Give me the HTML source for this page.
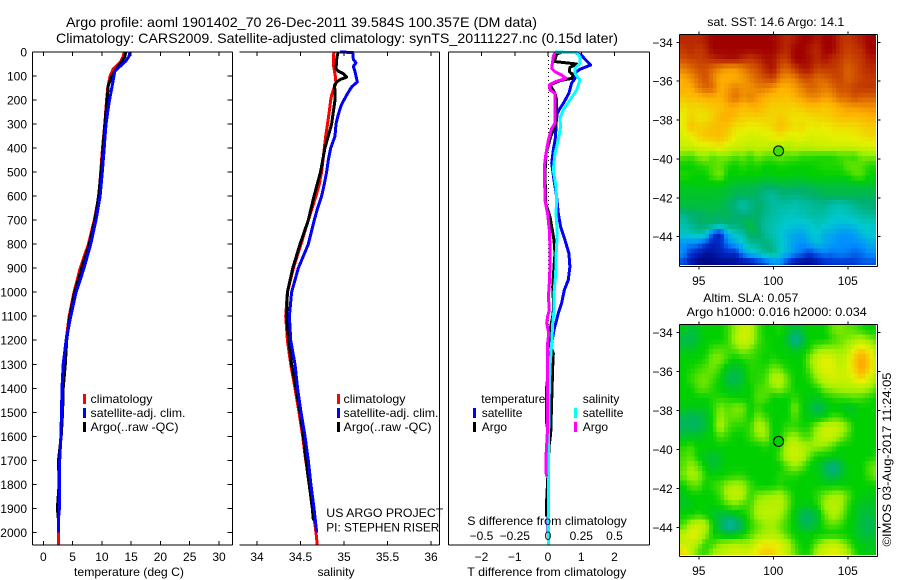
<!DOCTYPE html>
<html lang="en">
<head>
<meta charset="utf-8">
<title>Argo profile</title>
<style>
html,body{margin:0;padding:0;background:#fff;}
svg{display:block;font-family:"Liberation Sans",sans-serif;}
text{font-size:12px;fill:#000;}
.t{font-size:14px;}
</style>
</head>
<body>
<svg id="chart" width="900" height="580" viewBox="0 0 900 580" xmlns="http://www.w3.org/2000/svg">
<rect width="900" height="580" fill="#fff"/>
<defs>
<clipPath id="clip1"><rect x="680" y="35" width="196" height="230"/></clipPath>
<clipPath id="clip2"><rect x="680" y="325" width="196" height="230"/></clipPath>
</defs>
<text class="t" x="66" y="27" textLength="471" lengthAdjust="spacingAndGlyphs">Argo profile: aoml 1901402_70 26-Dec-2011 39.584S 100.357E (DM data)</text>
<text class="t" x="56" y="43" textLength="562" lengthAdjust="spacingAndGlyphs">Climatology: CARS2009. Satellite-adjusted climatology: synTS_20111227.nc (0.15d later)</text>

<g id="p1"></g>
<g id="p2"></g>
<g id="p3"></g>
<g id="m1"></g>
<g id="m2"></g>

<text x="74" y="576" textLength="110" lengthAdjust="spacingAndGlyphs">temperature (deg C)</text>
<text x="317.5" y="576" textLength="37" lengthAdjust="spacingAndGlyphs">salinity</text>
<text x="467.3" y="576" textLength="159" lengthAdjust="spacingAndGlyphs">T difference from climatology</text>
<text x="467.3" y="525" textLength="159.5" lengthAdjust="spacingAndGlyphs">S difference from climatology</text>

<g>
<rect x="83" y="394" width="3" height="10" fill="#f00"/>
<text x="90.5" y="403" textLength="62" lengthAdjust="spacingAndGlyphs">climatology</text>
<rect x="83" y="408" width="3" height="10" fill="#00f"/>
<text x="90.5" y="417" textLength="95" lengthAdjust="spacingAndGlyphs">satellite-adj. clim.</text>
<rect x="83" y="422" width="3" height="10" fill="#000"/>
<text x="90.5" y="431" textLength="88" lengthAdjust="spacingAndGlyphs">Argo(..raw -QC)</text>
</g>
<g>
<rect x="337" y="394" width="3" height="10" fill="#f00"/>
<text x="343.5" y="403" textLength="62" lengthAdjust="spacingAndGlyphs">climatology</text>
<rect x="337" y="408" width="3" height="10" fill="#00f"/>
<text x="343.5" y="417" textLength="95" lengthAdjust="spacingAndGlyphs">satellite-adj. clim.</text>
<rect x="337" y="422" width="3" height="10" fill="#000"/>
<text x="343.5" y="431" textLength="88" lengthAdjust="spacingAndGlyphs">Argo(..raw -QC)</text>
</g>
<text x="326.3" y="517" textLength="117" lengthAdjust="spacingAndGlyphs">US ARGO PROJECT</text>
<text x="326.3" y="531.5" textLength="113" lengthAdjust="spacingAndGlyphs">PI: STEPHEN RISER</text>

<g>
<text x="481.3" y="403" textLength="64" lengthAdjust="spacingAndGlyphs">temperature</text>
<rect x="473" y="408" width="3" height="10" fill="#00f"/>
<text x="481.7" y="417">satellite</text>
<rect x="473" y="422" width="3" height="10" fill="#000"/>
<text x="481.7" y="431">Argo</text>
<text x="582.7" y="403">salinity</text>
<rect x="574" y="408" width="3" height="10" fill="#0ff"/>
<text x="582.7" y="417">satellite</text>
<rect x="574" y="422" width="3" height="10" fill="#f0f"/>
<text x="582.7" y="431">Argo</text>
</g>

<text x="707.3" y="26" textLength="137" lengthAdjust="spacingAndGlyphs">sat. SST: 14.6 Argo: 14.1</text>
<text x="703.3" y="302" textLength="95" lengthAdjust="spacingAndGlyphs">Altim. SLA: 0.057</text>
<text x="686.7" y="316" textLength="180" lengthAdjust="spacingAndGlyphs">Argo h1000: 0.016 h2000: 0.034</text>
<text transform="translate(891,546.5) rotate(-90)" textLength="174" lengthAdjust="spacingAndGlyphs">©IMOS 03-Aug-2017 11:24:05</text>
</svg>

<script>
// ---- axis ticks ----
const depthTicks = [0,100,200,300,400,500,600,700,800,900,1000,1100,1200,1300,1400,1500,1600,1700,1800,1900,2000];
const tempTicks = [0,5,10,15,20,25,30];
const salTicks = [34,34.5,35,35.5,36];
const tDiffTicks = [-2,-1,0,1,2];
const sDiffTicks = [-0.5,-0.25,0,0.25,0.5];
const lonTicks = [95,100,105];
const latTicks = [-34,-36,-38,-40,-42,-44];

// ---- temperature profiles ----
const tempClimDepth = [0,20,40,60,70,100,150,200,300,400,500,600,700,800,900,1000,1100,1200,1300,1400,1500,1600,1700,1800,1900,2000,2054];
const tempClimValue = [13.8,13.6,13.2,12.4,11.95,11.4,11.0,10.8,10.5,10.1,9.8,9.5,8.7,7.7,6.3,5.25,4.4,3.9,3.5,3.25,3.1,3.0,2.75,2.7,2.65,2.56,2.56];
const tempSatDepth = [0,20,40,60,80,100,150,200,250,300,400,500,600,700,800,900,1000,1100,1200,1300,1400,1500,1600,1700,1800,1900,1950,2000];
const tempSatValue = [14.8,14.6,14.0,13.1,12.2,12.07,11.7,11.3,11.0,10.7,10.4,10.07,9.7,9.0,8.1,6.95,5.6,4.7,3.9,3.4,3.2,3.1,3.0,2.8,2.75,2.75,2.56,2.56];
const tempArgoDepth = [0,20,40,60,80,100,140,200,300,400,500,600,700,800,900,1000,1100,1200,1300,1400,1500,1600,1700,1800,1900,1950];
const tempArgoValue = [14.1,13.9,13.4,12.8,12.2,11.7,11.1,10.9,10.5,10.2,9.85,9.45,8.8,7.85,6.55,5.36,4.55,4.0,3.76,3.4,3.3,3.05,2.6,2.7,2.4,2.6];

// ---- salinity profiles ----
const salClimDepth = [0,20,50,100,130,150,180,200,250,300,350,400,500,550,600,700,800,900,1000,1100,1200,1300,1400,1500,1600,1700,1800,1900,2000,2054];
const salClimValue = [34.885,34.877,34.877,34.9,34.908,34.885,34.858,34.847,34.83,34.81,34.79,34.774,34.743,34.716,34.678,34.59,34.506,34.418,34.349,34.33,34.349,34.387,34.437,34.483,34.525,34.56,34.609,34.64,34.678,34.693];
const salArgoDepth = [0,10,30,70,80,90,105,115,125,140,160,200,250,300,350,400,500,600,700,800,900,1000,1100,1200,1300,1400,1500,1600,1700,1750,1800,1900,1950];
const salArgoValue = [34.935,34.925,34.916,34.908,34.935,34.992,35.03,34.954,34.916,34.889,34.897,34.897,34.877,34.858,34.82,34.78,34.73,34.655,34.59,34.494,34.41,34.349,34.34,34.364,34.398,34.448,34.494,34.533,34.563,34.58,34.6,34.636,34.648];
const salSatDepth = [0,2,30,45,60,75,100,125,145,180,220,260,300,350,400,450,500,550,600,650,700,800,900,1000,1100,1200,1300,1400,1500,1600,1700,1800,1900,2000];
const salSatValue = [34.954,35.1,35.107,35.138,35.107,35.122,35.138,35.153,35.088,35.03,34.97,34.935,34.908,34.897,34.847,34.82,34.8,34.774,34.743,34.697,34.659,34.59,34.475,34.398,34.372,34.387,34.437,34.467,34.506,34.552,34.59,34.62,34.655,34.686];

// ---- differences from climatology ----
const tDiffSatDepth = [0,6,14,33,54,72,89,110,130,172,214,235,255,297,352,408,463,533,602,672,727,783,838,894,949,991,1046,1088,1157,1212,1268,1393,1545,1587,1726,2000];
const tDiffSatValue = [0.81,0.86,1.01,1.13,1.28,0.96,0.79,0.81,0.71,0.63,0.46,0.36,0.28,0.24,0.23,0.16,0.11,0.18,0.26,0.31,0.38,0.51,0.63,0.66,0.61,0.49,0.41,0.31,0.18,0.11,0.06,-0.04,-0.04,0.01,0,0];
const tDiffArgoDepth = [0,8,33,40,50,64,82,96,110,119,137,172,200,297,352,422,505,630,686,727,783,838,894,977,1060,1101,1143,1212,1254,1310,1448,1587,1643,1754,1865,1934];
const tDiffArgoValue = [0.44,0.26,0.21,0.21,0.86,0.66,0.64,0.76,0.71,0.36,0.06,0.21,0.26,0.24,0.08,-0.06,-0.09,-0.07,0.06,0.11,0.18,0.21,0.18,0.14,0.17,0.14,0.08,0.04,0.16,0.14,0.11,0.08,0.03,0,-0.04,-0.04];
const sDiffSatDepth = [0,3,19,47,68,89,117,158,200,241,276,311,366,422,491,561,616,672,755,852,921,1005,1074,1129,1212,1310,1448,1587,1726,1865,2004,2054];
const sDiffSatValue = [0.053,0.216,0.24,0.24,0.203,0.203,0.24,0.216,0.165,0.115,0.09,0.095,0.078,0.053,0.04,0.06,0.065,0.06,0.07,0.06,0.058,0.045,0.045,0.035,0.028,0.015,0.008,0.005,0.003,0.005,0.003,0.003];
const sDiffArgoDepth = [3,19,68,82,96,110,124,137,158,172,228,297,318,366,422,477,547,616,672,741,810,894,963,1019,1074,1101,1129,1171,1226,1351,1587,1684,1768];
const sDiffArgoValue = [0.053,0.04,0.028,0.053,0.103,0.135,0.053,0.01,0.015,0.053,0.053,0.053,0.028,0.003,-0.015,-0.028,-0.025,-0.023,-0.003,0.01,0.015,0.015,0.01,0.003,0.01,-0.003,-0.01,0.005,-0.005,-0.005,-0.005,-0.015,-0.013];

// ---- map colour levels: 0 = navy ... 5 = green ... 10 = dark red ----
const sstGrid = [
[9.5,9.5,9.5,9.7,10,10,10,10,10,10,10,10,10,9.7,9.5,9.7,10,10,9.7,10,10,9.5,9.3,9.5,9.7,10,10],
[9.3,9.5,9.3,9.5,10,10,10,10,10,10,10,10,10,9.7,9.5,10,10,9.7,9.5,10,10,9.5,9.2,9.3,9.5,10,10],
[9,9.2,9.2,9.3,9.5,9.7,9.8,9.8,9.5,9.3,9.5,9.8,9.8,9.3,9.3,10,10,9.8,9.5,9.8,9.5,9.3,9,9.2,9.3,9.7,9.7],
[8.5,8.7,9,9,8.7,8.4,8.2,8.2,8.5,8.8,9,9.5,9.8,9,8.8,9.3,9.7,9.7,9.2,9.3,9.3,9.2,8.8,9,9.3,9.5,9.5],
[8,8.3,8.7,9,8.5,8,8,8,8.2,8.5,8.8,9,9.2,8.5,8.3,8.5,9,9,8.7,8.8,9,9.2,8.8,9,9.2,9.3,9.3],
[8,8,8.5,8.8,8.7,8,8.2,8.5,8.3,8.3,8.5,8.5,8.3,8,8,8.2,8.5,8.8,8.7,8.5,8.7,9,9,9.2,9.3,9.3,9.3],
[7.7,7.8,7.8,8,8,8,8.3,8.7,8.3,8.5,8.2,8,7.8,7.8,7.7,8,8.2,8.4,8.4,8.2,8.3,8.7,8.7,9,8.8,8.8,8.8],
[7.2,7.4,7.4,7.5,7.6,7.7,8,8,7.8,7.9,8,7.7,7.5,7.5,7.5,7.4,7.6,7.8,7.8,7.6,7.8,8,8.2,8.2,8.3,8.3,8.3],
[7,7.5,7.2,7.2,7.5,8,8,7.8,7.5,7.5,7.5,7.5,7.4,7.6,7.4,7.2,7.2,7.3,7.4,7.5,7.6,7.8,7.8,7.8,7.8,8,8],
[7,7.8,7.5,7.6,7.8,7.8,7.7,7.2,7.2,7,7.1,7.2,7.4,7.8,7.5,7.2,7.4,7,7.2,7,7.2,7.3,7.3,7.3,7.5,7.6,7.6],
[6.8,7,7.4,7.7,7.7,7.8,7.5,7,6.8,6.7,6.7,6.8,7,7.2,6.9,6.9,7,6.8,6.8,6.8,7,7,7,7.1,7.2,7.4,7.4],
[6.5,6.6,6.8,6.7,7,7.2,6.8,6.6,6.5,6.4,6.5,6.5,6.3,6.2,6.2,6.5,6.4,6.4,6.6,6.6,6.6,6.6,6.6,6.7,6.7,6.8,6.8],
[5.6,5.4,5.8,6,5.5,5.8,5.8,5.5,5.7,5.3,5.8,5.5,5.5,5.7,5.5,5.5,5.3,5.3,5.2,5.2,5.2,5.4,5.4,5.3,5.8,5.8,5.8],
[5,5,5.2,5.3,5.5,5.6,5.2,5,5.3,5.1,5.2,5,5,5.1,5.1,5,5,5,5.1,5.2,5.2,5.2,5.6,5.6,5.5,5.2,5.2],
[5.2,5.1,5,5,5.5,5.8,5,5,5,4.9,5,4.8,4.9,5,4.9,4.9,4.9,5,5,5,5,5,5.1,5.5,5.5,5,5],
[4.8,4.8,4.8,4.9,4.8,4.8,4.7,4.5,4.4,4.5,4.3,4.2,4.2,4.3,4.4,4.3,4.3,4.3,4.5,4.5,4.5,4.5,4.5,4.5,4.6,4.6,4.6],
[4.6,4.6,4.6,4.6,4.6,4.6,4.4,4.2,4.2,4.2,4,3.7,3.5,3.8,3.9,3.8,3.9,4,4.1,4.2,4.3,4.3,4.3,4.3,4.2,4.2,4.2],
[4.5,4.5,4.5,4.5,4.5,4.4,4.2,3.8,3.3,3.7,4,3.8,3.5,3.5,3.5,3.3,3.5,3.5,3.7,3.7,3.4,3.3,3.5,3.7,3.9,4,4],
[3.7,4,4,4.2,4.2,4.2,4.2,4,3.9,3.9,4.1,3.7,3.5,3.3,3.2,3.2,3.3,3.5,3.5,3.4,3.2,3.1,3.2,3.3,3.5,3.6,3.6],
[3.4,3.7,4,4.1,4.1,3.8,4,4,4.2,4.5,4,3.5,3.3,3.2,3,3,2.8,3,3.3,3.1,2.9,2.8,2.8,2.9,3.1,3.1,3.1],
[3.2,3.2,3.5,3.3,1.2,0.7,2.6,3.2,3.4,4.2,4.2,3.6,3.3,3,2.6,2.4,2.4,2.8,3,2.5,2.5,2.1,2.1,2.2,2.8,3,3],
[2,2,1.8,1.2,0.7,0.9,1.8,2.4,3,3.5,3.7,4,3.6,3.2,2.7,2.2,2,2.4,2.8,2.5,2.2,2,2,2,2.1,2.5,2.5],
[2,1,0.7,0.3,0.4,0.7,0.9,0.8,2,2.7,3,3.6,3.8,3,2.6,2,1.6,1.1,1.6,1.8,1.7,1.9,1.8,1.5,1.7,2,2],
[1.3,0.5,0.1,0.1,0.1,0.2,0.2,0.3,0.3,0.4,0.9,1.2,1.9,2,1,0.4,0.2,0.2,0.5,0.9,1,1,1,1.1,1.3,1.4,1.4]
];
const slaGrid = [
[4.8,4.5,4.7,5,5,5,5.3,6,6.6,6.5,5.5,5,5,5.2,4.8,4.4,4.7,5,5,5,5.6,5.8,5.6,5.5,5.2,5,5],
[4.3,4.3,4.6,5,5,5,5.3,6.2,6.7,6.5,5.5,5.1,5,5,4.5,3.4,4.2,5,5,5,5.3,5.6,5.8,6,6.2,5.8,5.5],
[4.7,4.7,4.9,5,5.4,5.5,5.4,5.6,6,5.7,5.3,5.1,5,5,4.9,4.6,4.8,5.2,5.8,6,6,5.9,6.2,7,7.4,7,6],
[5,5,5,5.2,5.8,5.8,5.3,5,5.2,5.3,5.2,5,5.2,5,5,5,5,5.8,6.6,6.9,6.8,6.3,6.6,7.6,8.2,7.5,6.4],
[5,5.1,5.3,5.5,5.7,5.3,4.7,4.5,4.8,5.2,5.2,5.2,5.7,5.6,5.1,5,5,5.6,6.5,6.9,6.9,6.5,6.7,7.5,8.2,7.5,6.4],
[5,5.3,5.6,5.7,5.4,5,4.4,4.2,4.6,5.2,5.2,5.4,6.2,6.4,5.6,5,5,5.2,6,6.5,6.7,6.6,6.6,7,7.4,6.8,6],
[5,5,5.5,5.6,5.2,5,4.7,4.6,4.9,5,5.4,5.5,5.8,6,5.5,5,5,5,5.2,5.8,6,6.2,6.2,6.2,6.3,6,5.5],
[5,5,5,5,5.2,5.2,5.2,5,5,5,5.5,5.5,5,5,5,5.3,5,4.9,4.8,5,5.2,5.3,5.4,5.5,5.4,5.2,5],
[4.8,4.8,4.8,4.8,5.2,5.8,5.5,5.8,5.7,5,5.3,5,5,5,5,5.8,5,4.6,4,4.5,4.9,4.8,4.6,4.8,5,5,5],
[4.3,4.2,4.2,4.5,5.2,6,5.6,5.6,5.5,5,5.8,5.4,5,5,5,5.5,5,4.9,4.8,5,5.4,5.4,5,4.9,5,5,5],
[4.2,4.2,4.2,4.5,5.2,6.2,5.5,5.2,5.2,5.3,6.2,6,5,5,5.3,5.3,5.1,5.2,6,6.5,6.7,6.4,5.8,5,5,5,5],
[4.6,4.7,4.7,4.9,5,5.5,5.2,5,5,5.3,5.8,6,5,5,5.8,6.1,5.5,5.5,6.2,6.6,6.5,6,5.4,5,5,5,5],
[5.2,5.4,5,5,5,5,5,5,5,5,5,5.2,5,5.2,6.3,6.6,6.2,6,6,5.8,5.5,5,5,5,5,5,5],
[5.4,5.6,5,4.7,4.5,4.7,5,5,5,5,5,5,5,5.5,6.3,6.7,6.3,5.6,5,5,4.9,4.9,5,5,5,5,5.2],
[5.5,6,5.6,4.9,4.5,4.8,5,5,5,5,5,5,5,5,5.6,6,5.6,5,4.8,4.3,3.7,4.2,4.9,5,5,5.5,5.7],
[5.7,6.1,6,5.2,5,5,5.1,5.2,5.2,5,5,5,5,5.2,5.2,5.2,5,5,4.9,4.5,4.1,4.5,4.9,5,5,5.4,5.8],
[5,5.5,5.6,5,5.3,5.5,6,6.2,6,5.4,5,5,5,5.2,5,5,5,5,5,5,5,5,5,5,5,5,5],
[4.7,5,5,5,5,5.4,6.2,6.6,6.2,5.3,5.7,5.9,6,6.2,5.6,5,5,5,5.3,5.7,6,6.1,5.6,5,4.9,4.8,4.9],
[4.7,4.8,5,5,5,5.1,5.5,5.7,5.4,5.4,6.1,6.3,6.3,6.4,5.7,5,4.9,4.8,5.2,6,6.4,6.2,5.4,4.9,4.7,4.6,4.8],
[5,5,5.2,5,4.6,4.5,4.4,4.7,5,5.4,6.2,6.4,6.4,6.1,5.5,4.8,4.2,4.1,4.6,5.6,6.2,6,5.2,4.8,4.5,4.4,4.7],
[5.4,6.2,6.6,6.3,5,4.2,3.5,3.6,4.5,5.2,5.6,5.9,6,5.7,5.3,4.9,4.3,4.2,4.7,5.3,5.6,5.4,5,4.8,4.4,4.2,4.6],
[6.3,6.9,6.8,6,5,4.8,4.4,4.6,4.9,5.4,5.8,6.1,6.2,5.9,5.4,5,4.9,4.9,5,5,5,5,5,4.8,4.5,4.4,4.7],
[6.5,6.5,6,5.2,5.4,5.9,6.1,6.2,6.1,6.1,6.8,7.1,7.1,6.8,6.3,5.4,5,5,5.7,6.2,6.5,6.2,5.6,5,4.8,4.7,4.9],
[7.5,6.4,5.5,5.3,6,6.4,6.6,6.8,6.7,6.8,7.2,7.6,7.5,7,6.4,5.6,5.1,5.2,6.3,6.8,7,6.9,6.2,5.4,4.9,4.8,4.9]
];
const profileLon = [100.357];
const profileLat = [-39.584];
const sstMarkerLevel = [5.4];
const slaMarkerLevel = [5.0];

// ---- scales ----
const NS = 'http://www.w3.org/2000/svg';
const PANEL_TOP = 52, PANEL_BOTTOM = 545;
function yDepth(d){ return PANEL_TOP + d * 0.2402; }
function xTemp(v){ return 43.3 + v * 5.857; }
function xSal(v){ return 257 + (v - 34) * 87; }
function xTDiff(v){ return 548 + v * 33.25; }
function xSDiff(v){ return 548 + v * 133; }
function xLon(v){ return 773.3 + (v - 100) * 14.9; }
function yLat1(v){ return 42.3 + (-34 - v) * 19.44; }
function yLat2(v){ return 332.7 + (-34 - v) * 19.46; }
function minusText(v){ return String(v).replace('-', '\u2212'); }

function colourOf(level){
  const stops = [[0,0,128],[0,48,208],[0,144,255],[0,200,208],[0,176,112],[0,208,0],[160,240,0],[232,240,0],[255,176,0],[208,80,0],[160,0,0]];
  const c = Math.max(0, Math.min(10, level));
  const i = Math.min(9, Math.floor(c));
  const f = c - i;
  const rgb = [0,1,2].map(function(k){ return Math.round(stops[i][k] + (stops[i+1][k] - stops[i][k]) * f); });
  return 'rgb(' + rgb.join(',') + ')';
}
// interpolated shading: colour level at a fractional grid position
function sampleGrid(grid, gx, gy){
  const maxR = grid.length - 1, maxC = grid[0].length - 1;
  const x = Math.max(0, Math.min(maxC, gx)), y = Math.max(0, Math.min(maxR, gy));
  const c0 = Math.floor(x), r0 = Math.floor(y);
  const c1 = Math.min(maxC, c0 + 1), r1 = Math.min(maxR, r0 + 1);
  const fx = x - c0, fy = y - r0;
  return (grid[r0][c0] * (1 - fx) + grid[r0][c1] * fx) * (1 - fy) + (grid[r1][c0] * (1 - fx) + grid[r1][c1] * fx) * fy;
}

function addLine(parent, name, x1, y1, x2, y2, dash){
  const el = document.createElementNS(NS, 'line');
  
  
  el.setAttribute('x1', x1);
  el.setAttribute('y1', y1);
  el.setAttribute('x2', x2);
  el.setAttribute('y2', y2);
  el.setAttribute('stroke', '#000');
  el.setAttribute('stroke-width', '1');
  el.setAttribute('shape-rendering', 'crispEdges');
  if (dash) el.setAttribute('stroke-dasharray', dash);
  parent.appendChild(el);
}
function addLabel(parent, name, x, y, anchor, str){
  const el = document.createElementNS(NS, 'text');
  
  
  el.setAttribute('x', x);
  el.setAttribute('y', y);
  el.setAttribute('text-anchor', anchor);
  el.textContent = str;
  parent.appendChild(el);
}
function addProfile(parent, name, colour, depths, values, xFn){
  const el = document.createElementNS(NS, 'polyline');
  
  
  el.setAttribute('fill', 'none');
  el.setAttribute('stroke', colour);
  el.setAttribute('stroke-width', '3');
  el.setAttribute('stroke-linejoin', 'round');
  el.setAttribute('shape-rendering', 'crispEdges');
  el.setAttribute('points', depths.map(function(d, i){ return xFn(values[i]).toFixed(1) + ',' + yDepth(d).toFixed(1); }).join(' '));
  parent.appendChild(el);
}

// ---- temperature panel ----
const p1 = document.getElementById('p1');
addProfile(p1, 'temperature-climatology-line', '#f00', tempClimDepth, tempClimValue, xTemp);
addProfile(p1, 'temperature-argo-line', '#000', tempArgoDepth, tempArgoValue, xTemp);
addProfile(p1, 'temperature-satellite-line', '#00f', tempSatDepth, tempSatValue, xTemp);
addLine(p1, 'panel-top-spine', 32.5, PANEL_TOP, 232.5, PANEL_TOP);
addLine(p1, 'panel-bottom-spine', 32.5, PANEL_BOTTOM, 232.5, PANEL_BOTTOM);
addLine(p1, 'panel-left-spine', 32.5, PANEL_TOP, 32.5, PANEL_BOTTOM);
addLine(p1, 'panel-right-spine', 232.5, PANEL_TOP, 232.5, PANEL_BOTTOM);
depthTicks.forEach(function(d){
  addLine(p1, 'depth-tick', 32.5, yDepth(d), 36.5, yDepth(d));
  addLine(p1, 'depth-tick', 227.5, yDepth(d), 232.5, yDepth(d));
  addLabel(p1, 'depth-tick-label', 27, yDepth(d) + 4.5, 'end', String(d));
});
tempTicks.forEach(function(v){
  addLine(p1, 'temperature-tick', xTemp(v), PANEL_TOP, xTemp(v), PANEL_TOP + 4);
  addLine(p1, 'temperature-tick', xTemp(v), PANEL_BOTTOM - 4, xTemp(v), PANEL_BOTTOM);
  addLabel(p1, 'temperature-tick-label', xTemp(v), 561, 'middle', String(v));
});

// ---- salinity panel ----
const p2 = document.getElementById('p2');
addProfile(p2, 'salinity-climatology-line', '#f00', salClimDepth, salClimValue, xSal);
addProfile(p2, 'salinity-argo-line', '#000', salArgoDepth, salArgoValue, xSal);
addProfile(p2, 'salinity-satellite-line', '#00f', salSatDepth, salSatValue, xSal);
addLine(p2, 'panel-top-spine', 239.5, PANEL_TOP, 439.5, PANEL_TOP);
addLine(p2, 'panel-bottom-spine', 239.5, PANEL_BOTTOM, 439.5, PANEL_BOTTOM);
addLine(p2, 'panel-right-spine', 439.5, PANEL_TOP, 439.5, PANEL_BOTTOM);
salTicks.forEach(function(v){
  addLine(p2, 'salinity-tick', xSal(v), PANEL_TOP, xSal(v), PANEL_TOP + 4);
  addLine(p2, 'salinity-tick', xSal(v), PANEL_BOTTOM - 4, xSal(v), PANEL_BOTTOM);
  addLabel(p2, 'salinity-tick-label', xSal(v), 561, 'middle', String(v));
});

// ---- difference panel ----
const p3 = document.getElementById('p3');
addLine(p3, 'zero-difference-line', 548.5, PANEL_TOP, 548.5, PANEL_BOTTOM, '1 3');
addProfile(p3, 't-difference-satellite-line', '#00f', tDiffSatDepth, tDiffSatValue, xTDiff);
addProfile(p3, 't-difference-argo-line', '#000', tDiffArgoDepth, tDiffArgoValue, xTDiff);
addProfile(p3, 's-difference-satellite-line', '#0ff', sDiffSatDepth, sDiffSatValue, xSDiff);
addProfile(p3, 's-difference-argo-line', '#f0f', sDiffArgoDepth, sDiffArgoValue, xSDiff);
addLine(p3, 'panel-top-spine', 448.5, PANEL_TOP, 649.5, PANEL_TOP);
addLine(p3, 'panel-bottom-spine', 448.5, PANEL_BOTTOM, 649.5, PANEL_BOTTOM);
addLine(p3, 'panel-left-spine', 448.5, PANEL_TOP, 448.5, PANEL_BOTTOM);
addLine(p3, 'panel-right-spine', 649.5, PANEL_TOP, 649.5, PANEL_BOTTOM);
tDiffTicks.forEach(function(v){
  addLine(p3, 't-difference-tick', xTDiff(v), PANEL_TOP, xTDiff(v), PANEL_TOP + 4);
  addLabel(p3, 't-difference-tick-label', xTDiff(v), 561, 'middle', minusText(v));
});
sDiffTicks.forEach(function(v){
  addLabel(p3, 's-difference-tick-label', xSDiff(v), 540, 'middle', minusText(v));
});

// ---- maps: grid values sit at 0.5 degree spacing, shaded in 0.25 degree cells ----
function drawMap(groupId, clipId, grid, yLat, top, bottom, level, cellName){
  const g = document.getElementById(groupId);
  const cells = document.createElementNS(NS, 'g');
  
  
  cells.setAttribute('clip-path', 'url(#' + clipId + ')');
  const nRows = grid.length * 2, nCols = grid[0].length * 2;
  for (let r = 0; r < nRows; r++) {
    for (let c = 0; c < nCols; c++) {
      const lonA = 93.7 + c * 0.25, lonB = lonA + 0.25;
      const latA = -33.6 - r * 0.25, latB = latA - 0.25;
      const v = sampleGrid(grid, (c + 0.5) / 2 - 0.5, (r + 0.5) / 2 - 0.5);
      const cell = document.createElementNS(NS, 'rect');
      
      
      cell.setAttribute('x', xLon(lonA).toFixed(2));
      cell.setAttribute('y', yLat(latA).toFixed(2));
      cell.setAttribute('width', (xLon(lonB) - xLon(lonA) + 0.4).toFixed(2));
      cell.setAttribute('height', (yLat(latB) - yLat(latA) + 0.4).toFixed(2));
      cell.setAttribute('fill', colourOf(v));
      cell.setAttribute('shape-rendering', 'crispEdges');
      cells.appendChild(cell);
    }
  }
  g.appendChild(cells);
  addLine(g, 'map-top-spine', 679.5, top, 877.5, top);
  addLine(g, 'map-bottom-spine', 679.5, bottom, 877.5, bottom);
  addLine(g, 'map-left-spine', 679.5, top, 679.5, bottom);
  addLine(g, 'map-right-spine', 877.5, top, 877.5, bottom);
  lonTicks.forEach(function(v){
    addLine(g, 'longitude-tick', xLon(v), top - 3, xLon(v), top);
    addLine(g, 'longitude-tick', xLon(v), bottom, xLon(v), bottom + 3);
    addLabel(g, 'longitude-tick-label', xLon(v), bottom + 18.5, 'middle', String(v));
  });
  latTicks.forEach(function(v){
    addLine(g, 'latitude-tick', 676.5, yLat(v), 679.5, yLat(v));
    addLine(g, 'latitude-tick', 877.5, yLat(v), 880.5, yLat(v));
    addLabel(g, 'latitude-tick-label', 672.7, yLat(v) + 4.5, 'end', minusText(v));
  });
  const marker = document.createElementNS(NS, 'circle');
  
  
  marker.setAttribute('cx', xLon(profileLon[0]).toFixed(1));
  marker.setAttribute('cy', yLat(profileLat[0]).toFixed(1));
  marker.setAttribute('r', '5');
  marker.setAttribute('fill', colourOf(level));
  marker.setAttribute('stroke', '#000');
  marker.setAttribute('stroke-width', '1');
  g.appendChild(marker);
}
drawMap('m1', 'clip1', sstGrid, yLat1, 34.5, 266.5, sstMarkerLevel[0], 'sst-cell');
drawMap('m2', 'clip2', slaGrid, yLat2, 324.5, 556.5, slaMarkerLevel[0], 'sla-cell');
</script>
</body>
</html>
